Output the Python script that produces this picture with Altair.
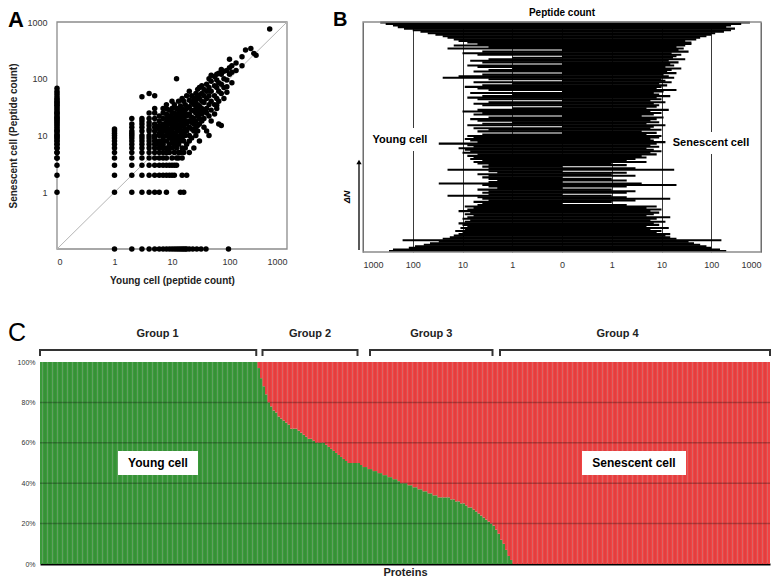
import altair as alt
import pandas as pd

FONT = "Liberation Sans"
DARK = "#222222"

# ================= Panel A : peptide counts per protein =================
# proteins seen only in senescent cells (young count = 0): senescent counts
a_only_senescent = [1, 2, 3, 4, 4, 5, 5, 6, 6, 7, 7, 8, 8, 9, 9, 10, 10, 11, 12, 12,
                    13, 14, 15, 16, 17, 18, 19, 20, 21, 22, 24, 25, 26, 28, 30, 32,
                    34, 36, 38, 40, 43, 46, 50, 55, 60, 68]
# proteins seen only in young cells (senescent count = 0): young counts
a_only_young = [1, 2, 3, 4, 5, 6, 7, 8, 9, 10, 11, 12, 13, 14, 15, 16, 17, 18,
                20, 23, 27, 32, 39, 96]
# proteins seen in both: young count -> senescent counts
a_both = {
    1: [1, 2, 3, 4, 5, 6, 7, 8, 9, 10, 11, 12, 13],
    2: [1, 2, 3, 4, 5, 6, 7, 8, 9, 10, 11, 12, 14, 16, 20],
    3: [1, 2, 3, 4, 5, 6, 7, 8, 9, 10, 12, 14, 16, 18, 20, 48],
    4: [1, 2, 3, 4, 5, 6, 7, 8, 9, 10, 12, 13, 15, 17, 20, 25, 55],
    5: [1, 2, 3, 4, 5, 6, 7, 8, 9, 10, 12, 14, 16, 20, 25, 30, 50],
    6: [1, 2, 3, 4, 5, 6, 7, 8, 10, 11, 13, 15, 18, 22],
    7: [2, 3, 4, 5, 6, 7, 8, 9, 10, 12, 14, 16, 20, 25, 30],
    8: [1, 2, 3, 4, 5, 6, 8, 10, 12, 14, 17, 20, 24, 30, 35],
    9: [2, 3, 5, 6, 7, 9, 11, 13, 16, 19, 22, 28],
    10: [2, 3, 4, 6, 8, 10, 12, 15, 18, 21, 25, 30, 40],
    11: [2, 3, 5, 7, 9, 11, 14, 17, 20, 25, 35],
    12: [3, 4, 6, 8, 10, 13, 16, 19, 22, 30, 100],
    13: [4, 5, 7, 9, 12, 15, 20, 24, 28, 40],
    14: [1, 5, 8, 10, 14, 18, 25, 33],
    15: [2, 4, 6, 9, 12, 16, 22, 30, 45],
    16: [1, 5, 8, 11, 15, 20, 28, 40],
    17: [6, 10, 13, 18, 25, 35],
    18: [2, 7, 12, 16, 22, 30, 50],
    20: [5, 8, 10, 14, 18, 24, 32, 42, 60],
    22: [9, 13, 17, 21, 28, 38, 50],
    24: [6, 12, 16, 20, 27, 35, 45],
    26: [10, 14, 18, 25, 30, 40, 55],
    28: [12, 15, 22, 28, 35, 48, 65],
    30: [8, 16, 20, 26, 33, 45, 52, 70],
    33: [18, 24, 30, 40, 55, 75],
    36: [14, 20, 28, 38, 50, 65],
    40: [12, 25, 30, 45, 60, 80],
    44: [10, 22, 35, 50, 70, 100],
    48: [18, 28, 40, 60, 90, 115],
    55: [24, 35, 50, 75, 110],
    60: [30, 34, 45, 70, 95, 120],
    65: [16, 40, 60, 85, 125],
    72: [15, 55, 80, 120, 145],
    80: [45, 70, 100, 135],
    90: [58, 72, 95, 140],
    100: [120, 157, 220],
    110: [85, 130, 170],
    130: [140, 190],
    165: [170, 245],
    190: [320],
    235: [340],
    265: [280],
    290: [260],
    500: [750],
}
a_x_ticks = [0.1, 1, 10, 100, 1000]
a_y_ticks = [1, 10, 100, 1000]
a_diagonal = [0.1, 1000]

# ================= Panel B : per-protein counts, sorted by dN (bottom -> top) =================
b_young = [
    300, 250, 120, 90, 60, 45, 30, 160, 25, 18,
    15, 12, 10, 14, 9, 11, 8, 10, 12, 9,
    7, 10, 8, 6, 9, 7, 12, 8, 6, 9,
    5, 4, 6, 3, 4, 5, 20, 3, 4, 3,
    5, 2, 3, 4, 30, 3, 2, 3, 4, 3,
    5, 2, 3, 20, 3, 4, 3, 5, 6, 4,
    7, 6, 8, 5, 10, 7, 9, 12, 6, 8,
    30, 5, 7, 9, 6, 8, 4, 0, 5, 3,
    6, 0, 8, 4, 1, 5, 7, 3, 0, 6,
    4, 10, 5, 1, 0, 4, 6, 3, 0, 5,
    8, 4, 1, 7, 0, 3, 5, 9, 4, 1,
    6, 0, 3, 25, 12, 4, 0, 6, 3, 1,
    5, 8, 0, 4, 7, 3, 1, 0, 5, 10,
    4, 0, 20, 3, 15, 5, 8, 12, 15, 20,
    25, 35, 50, 70, 100, 150, 200, 250, 350, 450,
]
b_senescent = [
    200, 150, 100, 80, 60, 45, 35, 160, 20, 15,
    12, 15, 8, 10, 6, 14, 5, 9, 7, 12,
    6, 8, 15, 5, 7, 9, 6, 10, 5, 8,
    2, 0, 1, 3, 15, 2, 1, 0, 2, 3,
    1, 0, 2, 20, 4, 0, 2, 1, 0, 3,
    1, 2, 0, 18, 3, 0, 2, 1, 5, 2,
    3, 5, 4, 8, 6, 10, 7, 5, 9, 6,
    8, 12, 7, 6, 9, 10, 5, 8, 4, 10,
    6, 7, 12, 5, 9, 6, 8, 11, 4, 7,
    10, 6, 14, 5, 8, 9, 7, 12, 6, 10,
    8, 15, 9, 7, 11, 20, 8, 10, 13, 9,
    16, 12, 10, 18, 14, 11, 20, 13, 16, 25,
    12, 18, 15, 22, 14, 30, 17, 20, 25, 16,
    35, 22, 28, 20, 30, 40, 40, 30, 50, 60,
    80, 100, 120, 180, 250, 300, 200, 250, 400, 600,
]
b_ticks = [-4, -3, -2, -1, 0, 1, 2, 3, 4]

# ================= Panel C : young-cell share (%) of each protein's peptides =================
c_young_pct = [
    100, 100, 100, 100, 100, 100, 100, 100, 100, 100, 100, 100, 100, 100, 100,
    100, 100, 100, 100, 100, 100, 100, 100, 100, 100, 100, 100, 100, 100,
    100, 100, 100, 100, 100, 100, 100, 100, 100, 100, 100, 100, 100, 100, 100,
    100, 100, 100, 100, 100, 100, 100, 100, 100, 100, 100, 100, 100, 100,
    100, 100, 100, 100, 100, 100, 100, 100, 100, 100, 100, 100, 100, 100, 100,
    100, 100, 100, 100, 100, 100, 100, 100, 100, 100, 100, 100, 100, 100,
    97, 92, 88, 84, 80, 78, 76, 75, 73, 72,
    71, 70, 69, 67, 67, 67, 66, 65, 64, 63,
    62, 62, 61, 60, 60, 60, 60, 59, 58, 57,
    56, 55, 54, 53, 52, 51, 50, 50, 50, 50,
    50, 49, 48, 48, 47, 47, 46, 46, 45, 45,
    44, 44, 43, 43, 42, 42, 41, 40, 40, 40,
    39, 39, 38, 38, 37, 37, 36, 36, 35, 35,
    34, 34, 33, 33, 33, 33, 33, 32, 32, 31,
    31, 30, 30, 29, 28, 28, 27, 26, 25, 24,
    23, 22, 21, 20, 19, 17, 15, 12, 10, 7,
    4, 2,
    0, 0, 0, 0, 0, 0, 0, 0, 0, 0, 0, 0, 0, 0, 0, 0, 0, 0, 0, 0,
    0, 0, 0, 0, 0, 0, 0, 0, 0, 0, 0, 0, 0, 0, 0, 0, 0, 0, 0, 0,
    0, 0, 0, 0, 0, 0, 0, 0, 0, 0, 0, 0, 0, 0, 0, 0, 0, 0, 0, 0,
    0, 0, 0, 0, 0, 0, 0, 0, 0, 0, 0, 0, 0, 0, 0, 0, 0, 0, 0, 0,
    0, 0, 0, 0, 0, 0, 0, 0, 0, 0, 0, 0, 0, 0, 0, 0, 0, 0, 0, 0,
    0, 0, 0,
]
c_group_names = ["Group 1", "Group 2", "Group 3", "Group 4"]
c_group_start = [0, 89, 132, 184]
c_group_end = [86.5, 127, 181, 292]
c_group_label_at = [47, 108, 156.5, 231]
c_y_ticks = [0, 20, 40, 60, 80, 100]
c_grid = [20, 40, 60, 80]

GREEN = "#3a9a3a"
RED = "#f04343"

one = pd.DataFrame({"k": [0]})


def note(txt, x, y, size=11, weight="bold", align="center", baseline="middle",
         angle=0, style="normal"):
    return alt.Chart(one).mark_text(
        text=txt, fontSize=size, fontWeight=weight, align=align, baseline=baseline,
        angle=angle, font=FONT, color="black", fontStyle=style
    ).encode(x=alt.value(x), y=alt.value(y))


def box(x1, x2, y1, y2, fill="white", stroke=None, sw=1.0):
    kw = dict(fill=fill)
    if stroke:
        kw.update(stroke=stroke, strokeWidth=sw)
    return alt.Chart(one).mark_rect(**kw).encode(
        x=alt.value(x1), x2=alt.value(x2), y=alt.value(y1), y2=alt.value(y2))


# ---------------- Panel A chart ----------------
rows = [(0, s) for s in a_only_senescent] + [(yv, 0) for yv in a_only_young]
for yv, lst in a_both.items():
    rows += [(yv, s) for s in lst]
df_a = pd.DataFrame(rows, columns=["young", "senescent"])

SHIFT_A = 17               # panel A plot sits 17px right of panel C's left edge
W_A, H_A = 230 + SHIFT_A, 227
ax_a = dict(labelFont=FONT, titleFont=FONT, labelFontSize=9, labelColor="#333",
            titleFontSize=10, titleFontWeight="bold", titleColor=DARK,
            grid=False, domain=False, ticks=False)
a_x = alt.X("xv:Q",
            scale=alt.Scale(type="log", domain=[0.1, 1000], nice=False, range=[SHIFT_A, W_A]),
            axis=alt.Axis(values=a_x_ticks,
                          labelExpr="datum.value < 0.5 ? '0' : format(datum.value, 'd')",
                          title="Young cell (peptide count)", labelPadding=8, titlePadding=9,
                          **ax_a))
a_y = alt.Y("yv:Q", scale=alt.Scale(type="log", domain=[0.1, 1000], nice=False),
            axis=alt.Axis(values=a_y_ticks, labelExpr="format(datum.value, 'd')",
                          title="Senescent cell (Peptide count)", labelPadding=10,
                          titlePadding=8, offset=-SHIFT_A, **ax_a))

a_frame = box(SHIFT_A, W_A, 0, H_A, fill="transparent", stroke="#8c8c8c", sw=1.3)
a_diag = alt.Chart(pd.DataFrame({"xv": a_diagonal, "yv": a_diagonal})).mark_line(
    color="#b5b5b5", strokeWidth=1).encode(x=a_x, y=a_y)
a_pts = alt.Chart(df_a).transform_calculate(
    xv="max(datum.young, 0.1)", yv="max(datum.senescent, 0.1)"
).mark_circle(size=30, color="black", opacity=1).encode(x=a_x, y=a_y)
panel_a = alt.layer(
    a_frame, a_diag, a_pts,
    note("A", SHIFT_A - 49, -12, size=22, align="left", baseline="top"),
).properties(width=W_A, height=H_A)

# ---------------- Panel B chart ----------------
n_b = len(b_young)
df_b = pd.DataFrame({
    "row": list(range(n_b)) * 2,
    "side": [-1] * n_b + [1] * n_b,
    "count": b_young + b_senescent,
})
W_B, H_B = 398, 230
b_xs = alt.Scale(domain=[-4, 4], nice=False, zero=False)
b_bars = alt.Chart(df_b).transform_filter("datum.count > 0").transform_calculate(
    p0="0", p="datum.side * (log(datum.count) / LN10 + 1)", r1="datum.row + 1.35"
).mark_rect(color="black").encode(
    x=alt.X("p0:Q", scale=b_xs, axis=alt.Axis(
        values=b_ticks,
        labelExpr="datum.value == 0 ? '0' : format(pow(10, abs(datum.value) - 1), 'd')",
        title=None, grid=True, gridColor="#3a3a3a", gridWidth=1, ticks=False,
        domain=False, labelPadding=8, labelFontSize=9, labelColor="#333", labelFont=FONT)),
    x2="p:Q",
    y=alt.Y("row:Q", scale=alt.Scale(domain=[0, n_b], nice=False), axis=None),
    y2="r1:Q",
)
b_frame = box(0, W_B, 0, H_B, fill="transparent", stroke="#8c8c8c", sw=1.3)
b_arrow = alt.Chart(one).mark_rule(color="black", strokeWidth=1.3).encode(
    x=alt.value(-4), y=alt.value(228), y2=alt.value(142))
b_head = alt.Chart(one).mark_point(shape="triangle-up", filled=True, color="black",
                                   size=28, opacity=1).encode(x=alt.value(-4), y=alt.value(140))
panel_b = alt.layer(
    b_bars, b_frame,
    box(6, 70, 106, 129), note("Young cell", 37, 118),
    box(305, 393, 110, 132), note("Senescent cell", 348, 121),
    note("Peptide count", W_B / 2, -9, size=10),
    note("B", -30, -12, size=20, align="left", baseline="top"),
    b_arrow, b_head,
    note("\u0394N", -16, 175, size=9, angle=270, style="italic"),
).properties(width=W_B, height=H_B)

# ---------------- Panel C chart ----------------
n_c = len(c_young_pct)
c_rows = []
for i, yp in enumerate(c_young_pct):
    if yp > 0:
        c_rows.append({"i0": i, "i1": i + 1, "y0": 0, "y1": yp, "cell": "Young cell"})
    if yp < 100:
        c_rows.append({"i0": i, "i1": i + 1, "y0": yp, "y1": 100, "cell": "Senescent cell"})
df_c = pd.DataFrame(c_rows)
W_C, H_C = 730, 202
c_x = alt.X("i0:Q", scale=alt.Scale(domain=[0, n_c], nice=False, zero=False),
            axis=alt.Axis(labels=False, ticks=False, grid=False, domain=True,
                          domainColor="black", domainWidth=2, title="Proteins",
                          titleFont=FONT, titleFontSize=11, titleFontWeight="bold",
                          titleColor=DARK, titlePadding=2))
c_y = alt.Y("y0:Q", scale=alt.Scale(domain=[0, 100], nice=False),
            axis=alt.Axis(values=c_y_ticks, labelExpr="datum.value + '%'", labelFontSize=7,
                          labelColor="#333", labelFont=FONT, ticks=False, domain=False,
                          grid=False, title=None, labelPadding=5))
c_bars = alt.Chart(df_c).mark_rect().encode(
    x=c_x, x2="i1:Q", y=c_y, y2="y1:Q",
    color=alt.Color("cell:N", scale=alt.Scale(domain=["Young cell", "Senescent cell"],
                                              range=[GREEN, RED]), legend=None),
)
c_stripes = alt.Chart(pd.DataFrame({"i0": list(range(1, n_c))})).mark_rule(
    color="black", opacity=0.16, strokeWidth=0.7).encode(
    x=c_x, y=alt.value(0), y2=alt.value(H_C))
c_gridlines = alt.Chart(pd.DataFrame({"y0": c_grid})).mark_rule(
    color="black", opacity=0.26, strokeWidth=1.5).encode(
    y=c_y, x=alt.value(0), x2=alt.value(W_C))
df_g = pd.DataFrame({"name": c_group_names, "start": c_group_start,
                     "end": c_group_end, "lab": c_group_label_at})
c_br = alt.Chart(df_g).transform_calculate(i0="datum.start", i1="datum.end").mark_rule(
    color="#333", strokeWidth=2).encode(x=c_x, x2="i1:Q", y=alt.value(-12))
c_br_l = alt.Chart(df_g).transform_calculate(i0="datum.start").mark_rule(
    color="#333", strokeWidth=2).encode(x=c_x, y=alt.value(-13), y2=alt.value(-6))
c_br_r = alt.Chart(df_g).transform_calculate(i0="datum.end").mark_rule(
    color="#333", strokeWidth=2).encode(x=c_x, y=alt.value(-13), y2=alt.value(-6))
c_glab = alt.Chart(df_g).transform_calculate(i0="datum.lab").mark_text(
    font=FONT, fontSize=11, fontWeight="bold", color=DARK, baseline="middle").encode(
    x=c_x, y=alt.value(-28), text="name:N")
panel_c = alt.layer(
    c_bars, c_stripes, c_gridlines, c_br, c_br_l, c_br_r, c_glab,
    box(78, 158, 89, 113), note("Young cell", 118, 101, size=12),
    box(542, 646, 89, 113), note("Senescent cell", 594, 101, size=12),
    note("C", -32, -41, size=25, align="left", baseline="top", weight="normal"),
).properties(width=W_C, height=H_C)

top = alt.hconcat(panel_a, panel_b, spacing=76, bounds="flush")
chart = alt.vconcat(top, panel_c, spacing=36).properties(
    padding={"left": 0, "top": 0, "right": 0, "bottom": 0}
).configure_view(stroke=None)

chart.save("out.html", embed_options={"renderer": "svg", "actions": False})
